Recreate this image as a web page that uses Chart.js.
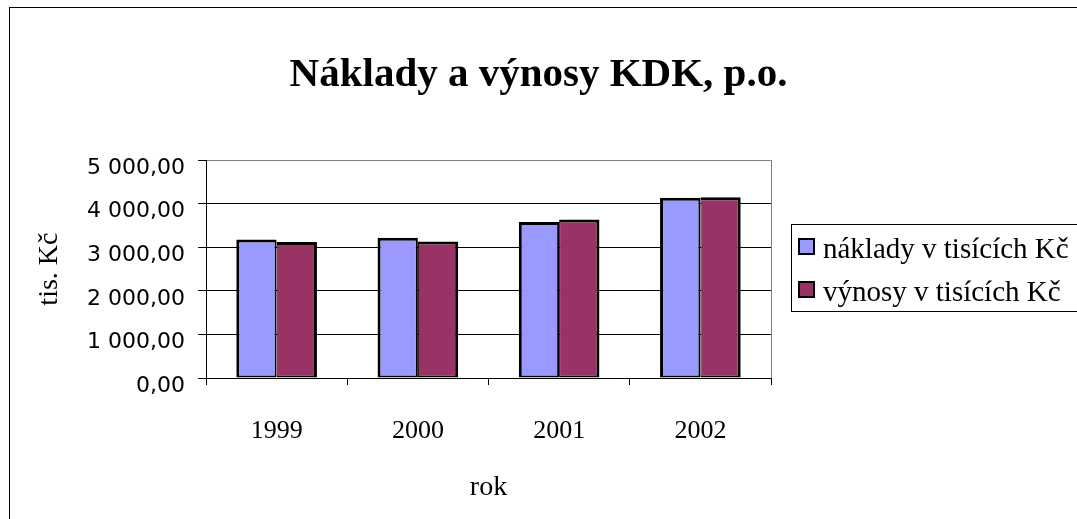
<!DOCTYPE html>
<html>
<head>
<meta charset="utf-8">
<script src="https://cdn.jsdelivr.net/npm/chart.js@4.4.0/dist/chart.umd.min.js"></script>
<style>
html,body{margin:0;padding:0;background:#fff;}
#wrap{position:relative;width:1077px;height:519px;overflow:hidden;}
canvas{display:block;}
</style>
</head>
<body>
<div id="wrap"><canvas id="c" width="1077" height="519"></canvas></div>
<script>
const categories = ['1999', '2000', '2001', '2002'];
const seriesNames = ['náklady v tisících Kč', 'výnosy v tisících Kč'];
const naklady = [3182, 3218, 3579, 4138];
const vynosy = [3120, 3135, 3641, 4147];
const yTicks = [0, 1000, 2000, 3000, 4000, 5000];
const chartTitle = 'Náklady a výnosy KDK, p.o.';
const xTitle = 'rok';
const yTitle = 'tis. Kč';
const colors = ['#9999FF', '#993366'];

function fmt(v) {
  const s = Number(v).toFixed(2);
  let [i, d] = s.split('.');
  i = i.replace(/\B(?=(\d{3})+(?!\d))/g, ' ');
  return i + ',' + d;
}

const SERIF = "'Liberation Serif', 'Times New Roman', serif";
const SANS = "'DejaVu Sans', Verdana, sans-serif";

const framePlugin = {
  id: 'frame',
  beforeDraw(chart) {
    const ctx = chart.ctx;
    ctx.save();
    ctx.fillStyle = '#fff';
    ctx.fillRect(0, 0, chart.width, chart.height);
    ctx.strokeStyle = '#000';
    ctx.lineWidth = 1;
    ctx.strokeRect(9.5, 7.5, chart.width + 20, chart.height + 20);
    ctx.restore();
  },
  beforeDatasetsDraw(chart) {
    const a = chart.chartArea;
    const ctx = chart.ctx;
    ctx.save();
    ctx.strokeStyle = '#808080';
    ctx.lineWidth = 1;
    ctx.beginPath();
    ctx.moveTo(Math.round(a.right) + 0.5, a.top);
    ctx.lineTo(Math.round(a.right) + 0.5, a.bottom);
    ctx.stroke();
    ctx.restore();
  },
  afterDraw(chart) {
    const ctx = chart.ctx;
    ctx.save();
    ctx.strokeStyle = '#000';
    ctx.lineWidth = 1;
    ctx.strokeRect(791.5, 224.5, 320, 87);
    const ds = chart.data.datasets;
    const rows = [238, 281];
    ctx.font = "29px " + SERIF;
    ctx.textBaseline = 'alphabetic';
    ctx.textAlign = 'left';
    ds.forEach((d, i) => {
      const y = rows[i];
      ctx.fillStyle = d.backgroundColor;
      ctx.fillRect(799, y + 1, 15, 15);
      ctx.strokeStyle = '#000';
      ctx.lineWidth = 2;
      ctx.strokeRect(799, y + 1, 15, 15);
      ctx.fillStyle = '#000';
      ctx.fillText(d.label, 823, y + 20);
    });
    ctx.restore();
  }
};

new Chart(document.getElementById('c'), {
  type: 'bar',
  data: {
    labels: categories,
    datasets: [
      { label: seriesNames[0], data: naklady, backgroundColor: colors[0], borderColor: '#000',
        borderWidth: { left: 3, top: 3, right: 2, bottom: 2 }, borderSkipped: false },
      { label: seriesNames[1], data: vynosy, backgroundColor: colors[1], borderColor: '#000',
        borderWidth: { left: 1, top: 3, right: 3, bottom: 2 }, borderSkipped: false }
    ]
  },
  options: {
    responsive: false,
    animation: false,
    devicePixelRatio: 1,
    layout: { padding: { left: 0, right: 0, top: 0, bottom: 0 } },
    datasets: { bar: { categoryPercentage: 0.571, barPercentage: 1.0 } },
    plugins: {
      legend: { display: false },
      tooltip: { enabled: false },
      title: {
        display: true,
        text: chartTitle,
        color: '#000',
        font: { family: SERIF, size: 41, weight: 'bold', lineHeight: 1.2 },
        padding: { top: 51, bottom: 60 }
      }
    },
    scales: {
      x: {
        grid: { display: true, drawOnChartArea: false, offset: true, tickLength: 7, color: '#000' },
        border: { display: true, color: '#000', width: 1 },
        ticks: { color: '#000', font: { family: SERIF, size: 26 }, padding: 31, maxRotation: 0 },
        title: { display: true, text: xTitle, color: '#000', font: { family: SERIF, size: 28, lineHeight: 1.2 }, padding: { top: 0, bottom: 15 } },
        afterFit(s) { s.height = 141; }
      },
      y: {
        min: 0,
        max: 5000,
        afterBuildTicks(s) { s.ticks = yTicks.map(v => ({ value: v })); },
        grid: {
          color: (c) => (c.tick && c.tick.value === 5000 ? '#808080' : '#000'),
          tickColor: '#000',
          tickLength: 8,
          lineWidth: 1
        },
        border: { display: true, color: '#000', width: 1 },
        ticks: { color: '#000', font: { family: SANS, size: 22 }, padding: 13, labelOffset: 8, callback: (v) => fmt(v) },
        title: { display: true, text: yTitle, color: '#000', font: { family: SERIF, size: 28, lineHeight: 1.2 }, padding: { top: 33, bottom: 0 } },
        afterFit(s) { s.width = 206; }
      },
      side: {
        position: 'right',
        display: true,
        min: 0,
        max: 1,
        ticks: { display: false },
        grid: { display: false, drawTicks: false },
        border: { display: false },
        afterFit(s) { s.width = 306; }
      }
    }
  },
  plugins: [framePlugin]
});
</script>
</body>
</html>
